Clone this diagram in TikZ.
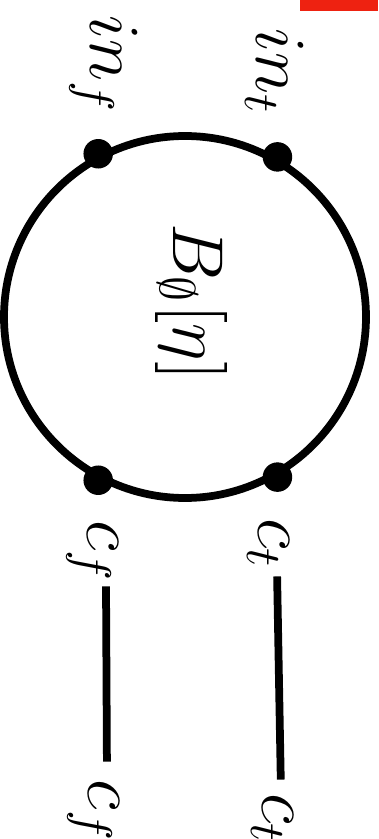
\documentclass[tikz,border=0pt]{standalone}
\begin{document}
\begin{tikzpicture}[x=0.2pt,y=-0.2pt,
  lbl/.style={rotate=-90,anchor=base,inner sep=0pt,font=\fontsize{14.4}{17}\selectfont},
  wire/.style={line width=1.55pt,black},
  dotnode/.style={circle,fill=black,minimum size=5.9pt,inner sep=0pt},
  ringnode/.style={circle,draw=black,line width=1.55pt,minimum size=72.4pt,inner sep=0pt}]
\definecolor{redbar}{RGB}{238,34,17}
\useasboundingbox (0,0) rectangle (378,839);
\fill[redbar] (300,0) rectangle (378,11);
\node[ringnode] (ring) at (185,317) {};
\node[dotnode] (d1) at (ring.118) {};
\node[dotnode] (d2) at (ring.60) {};
\node[dotnode] (d3) at (ring.242) {};
\node[dotnode] (d4) at (ring.300) {};
\node[lbl] (inf) at (90,65) {$in_f$};
\node[lbl] (int) at (256,72) {$in_t$};
\node[lbl] (B) at (173,302) {$B_\emptyset[\eta]$};
\node[lbl] (ct1) at (258,544) {$c_t$};
\node[lbl] (ct2) at (262,819) {$c_t$};
\node[lbl] (cf1) at (87,552) {$c_f$};
\node[lbl] (cf2) at (88,811) {$c_f$};
\draw[wire,shorten <=1.2pt,shorten >=2.6pt] ([xshift=3.8pt]ct1.base east) -- ([xshift=3.8pt]ct2.base west);
\draw[wire,shorten <=0.4pt,shorten >=3.4pt] ([xshift=3.8pt]cf1.base east) -- ([xshift=3.8pt]cf2.base west);
\end{tikzpicture}
\end{document}
